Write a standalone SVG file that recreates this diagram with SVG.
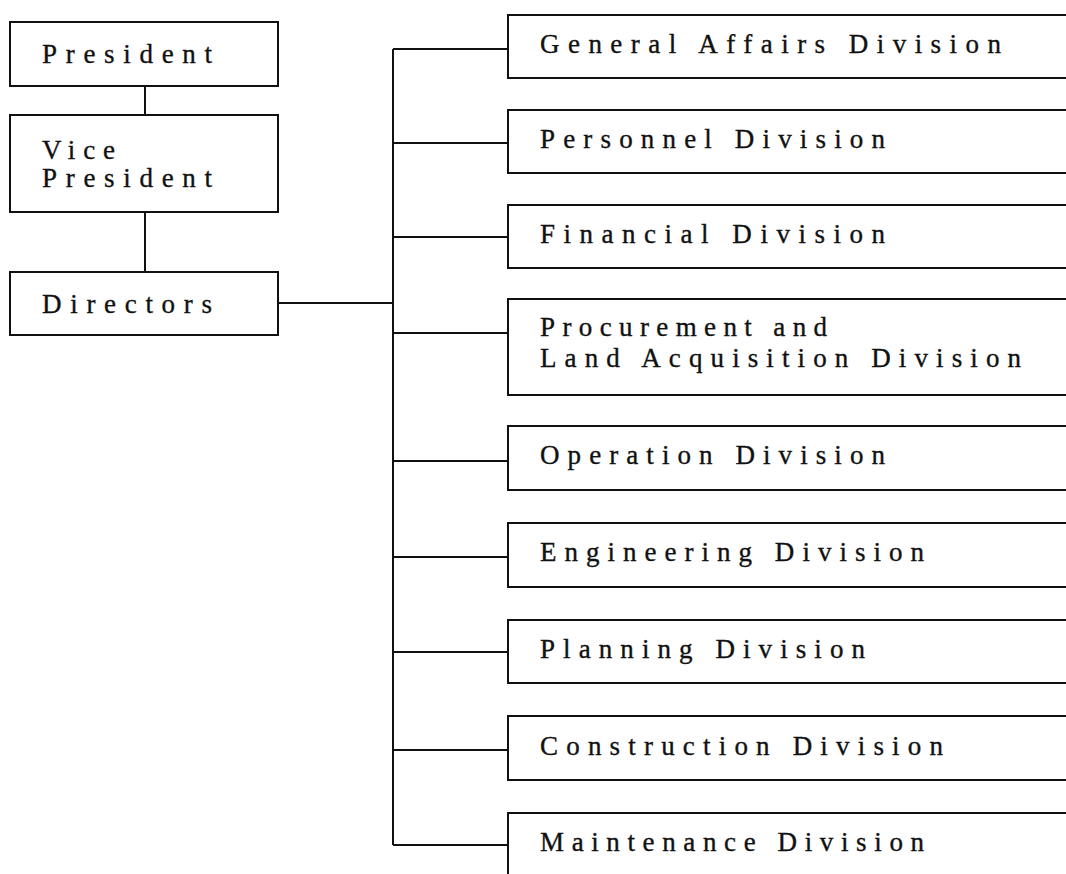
<svg xmlns="http://www.w3.org/2000/svg" width="1066" height="874" viewBox="0 0 1066 874">
  <style>
    .box { fill: #ffffff; stroke: #111111; stroke-width: 2; }
    .wire { fill: none; stroke: #111111; stroke-width: 2; }
    .lbl { font-family: "Liberation Serif", "Times New Roman", serif; font-size: 27px; fill: #111111; stroke: #111111; stroke-width: 0.35px; }
  </style>
  <rect width="1066" height="874" fill="#ffffff"/>

  <!-- connectors -->
  <g id="connectors" class="wire">
    <line x1="145" y1="86" x2="145" y2="115"/>
    <line x1="145" y1="212" x2="145" y2="272"/>
    <line x1="278" y1="303" x2="393" y2="303"/>
    <line x1="393" y1="49" x2="393" y2="845"/>
    <line x1="393" y1="49" x2="508" y2="49"/>
    <line x1="393" y1="143" x2="508" y2="143"/>
    <line x1="393" y1="237" x2="508" y2="237"/>
    <line x1="393" y1="333" x2="508" y2="333"/>
    <line x1="393" y1="461" x2="508" y2="461"/>
    <line x1="393" y1="557" x2="508" y2="557"/>
    <line x1="393" y1="652" x2="508" y2="652"/>
    <line x1="393" y1="750" x2="508" y2="750"/>
    <line x1="393" y1="845" x2="508" y2="845"/>
  </g>

  <!-- executive chain -->
  <g id="president">
    <rect class="box" x="10" y="22" width="268" height="64"/>
    <text class="lbl" x="42" y="63" textLength="170" lengthAdjust="spacing">President</text>
  </g>
  <g id="vice-president">
    <rect class="box" x="10" y="115" width="268" height="97"/>
    <text class="lbl" x="42" y="159" textLength="73" lengthAdjust="spacing">Vice</text>
    <text class="lbl" x="42" y="187" textLength="170" lengthAdjust="spacing">President</text>
  </g>
  <g id="directors">
    <rect class="box" x="10" y="272" width="268" height="63"/>
    <text class="lbl" x="42" y="313" textLength="170" lengthAdjust="spacing">Directors</text>
  </g>

  <!-- divisions (boxes run past the right edge) -->
  <g id="general-affairs">
    <rect class="box" x="508" y="15" width="600" height="63"/>
    <text class="lbl" x="540" y="53" textLength="461" lengthAdjust="spacing">General Affairs Division</text>
  </g>
  <g id="personnel">
    <rect class="box" x="508" y="110" width="600" height="63"/>
    <text class="lbl" x="540" y="148" textLength="345" lengthAdjust="spacing">Personnel Division</text>
  </g>
  <g id="financial">
    <rect class="box" x="508" y="205" width="600" height="63"/>
    <text class="lbl" x="540" y="243" textLength="345" lengthAdjust="spacing">Financial Division</text>
  </g>
  <g id="procurement">
    <rect class="box" x="508" y="299" width="600" height="96"/>
    <text class="lbl" x="540" y="336" textLength="287" lengthAdjust="spacing">Procurement and</text>
    <text class="lbl" x="540" y="367" textLength="481" lengthAdjust="spacing">Land Acquisition Division</text>
  </g>
  <g id="operation">
    <rect class="box" x="508" y="426" width="600" height="64"/>
    <text class="lbl" x="540" y="464" textLength="345" lengthAdjust="spacing">Operation Division</text>
  </g>
  <g id="engineering">
    <rect class="box" x="508" y="523" width="600" height="64"/>
    <text class="lbl" x="540" y="561" textLength="384" lengthAdjust="spacing">Engineering Division</text>
  </g>
  <g id="planning">
    <rect class="box" x="508" y="620" width="600" height="63"/>
    <text class="lbl" x="540" y="658" textLength="325" lengthAdjust="spacing">Planning Division</text>
  </g>
  <g id="construction">
    <rect class="box" x="508" y="716" width="600" height="64"/>
    <text class="lbl" x="540" y="755" textLength="403" lengthAdjust="spacing">Construction Division</text>
  </g>
  <g id="maintenance">
    <rect class="box" x="508" y="813" width="600" height="100"/>
    <text class="lbl" x="540" y="851" textLength="384" lengthAdjust="spacing">Maintenance Division</text>
  </g>
</svg>
